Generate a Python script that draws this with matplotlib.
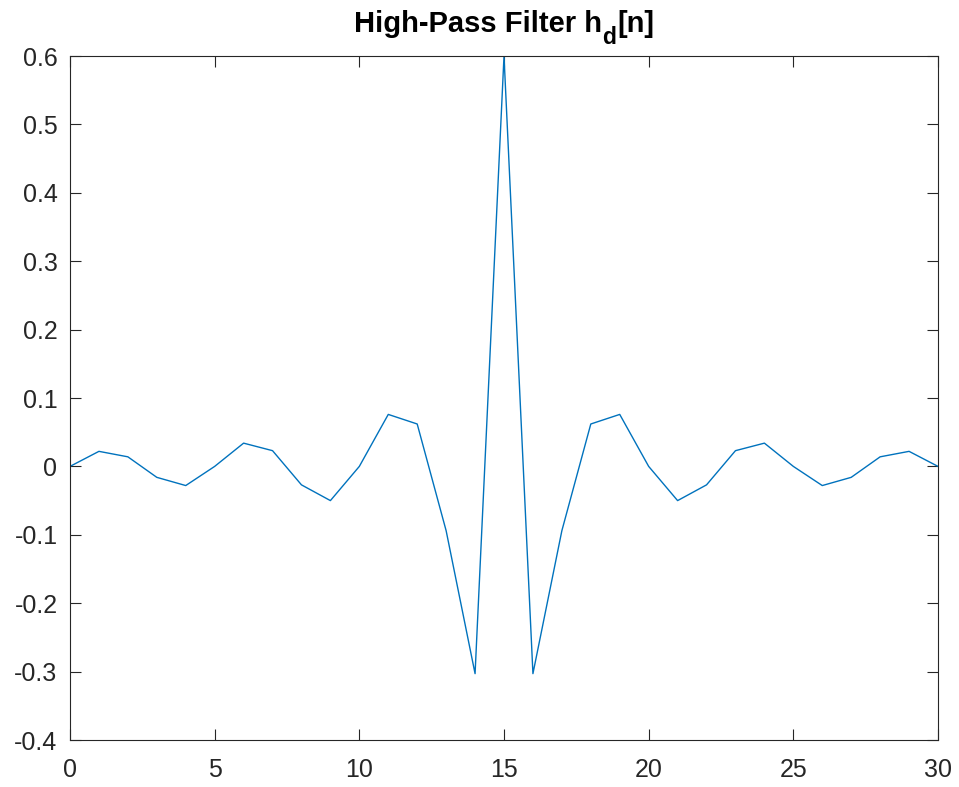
import numpy as np
import matplotlib
matplotlib.use('Agg')
import matplotlib.pyplot as plt

# uzorci n i vrijednosti h_d[n] ocitane sa slike
n = np.arange(0, 31)
hd = [0.000, 0.022, 0.014, -0.016, -0.028, 0.000, 0.034, 0.023, -0.027, -0.050,
      0.000, 0.076, 0.062, -0.094, -0.303, 0.600, -0.303, -0.094, 0.062, 0.076,
      0.000, -0.050, -0.027, 0.023, 0.034, 0.000, -0.028, -0.016, 0.014, 0.022,
      0.000]

x_ticks = [0, 5, 10, 15, 20, 25, 30]
y_ticks = [-0.4, -0.3, -0.2, -0.1, 0, 0.1, 0.2, 0.3, 0.4, 0.5, 0.6]
y_labels = ['-0.4', '-0.3', '-0.2', '-0.1', '0', '0.1', '0.2', '0.3', '0.4', '0.5', '0.6']

plt.rcParams['font.family'] = ['Liberation Sans', 'DejaVu Sans']

W, H = 959, 787
fig = plt.figure(figsize=(W / 100, H / 100), dpi=100)
ax = fig.add_axes([70 / W, 1 - 740 / H, (938 - 70) / W, (740 - 56) / H])

ax.plot(n, hd, color='#0072BD', linewidth=1.0)

ax.set_xlim(0, 30)
ax.set_ylim(-0.4, 0.6)
ax.set_xticks(x_ticks)
ax.set_yticks(y_ticks)
ax.set_yticklabels(y_labels)

ax.tick_params(direction='in', length=8, width=0.8, colors='#262626',
               labelsize=18, top=True, right=True)
ax.tick_params(axis='x', pad=13)
ax.tick_params(axis='y', pad=9)
for s in ax.spines.values():
    s.set_color('#262626')
    s.set_linewidth(0.8)

# naslov slozen iz dijelova (veliki indeks kao u MATLAB-u)
fig.canvas.draw()
r = fig.canvas.get_renderer()
dijelovi = [('High-Pass Filter h', 21, 0, 0), ('d', 16.5, -12, 1), ('[n]', 21, 0, 0)]
baza = 1 - 32 / H
tekstovi = []
for txt, vel, dy, razmak in dijelovi:
    t = fig.text(0, baza + dy / H, txt, fontsize=vel, fontweight='bold',
                 color='black', ha='left', va='baseline')
    tekstovi.append((t, razmak))
sirine = [t.get_window_extent(r).width + 2 * rz for t, rz in tekstovi]
x = 504 - sum(sirine) / 2
for (t, rz), w in zip(tekstovi, sirine):
    t.set_x((x + rz) / W)
    x += w

fig.savefig('out.png', dpi=100)
